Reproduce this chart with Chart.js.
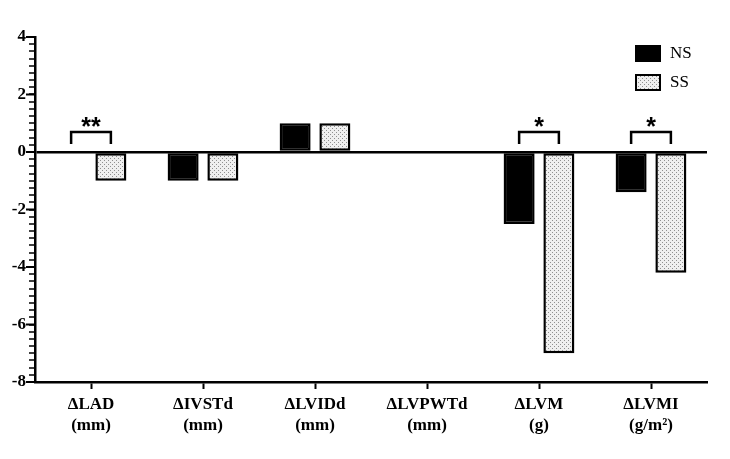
<!DOCTYPE html>
<html>
<head>
<meta charset="utf-8">
<script src="https://cdn.jsdelivr.net/npm/chart.js@4/dist/chart.umd.min.js"></script>
<style>
  html, body { margin: 0; padding: 0; background: #fff; }
  #wrap { width: 730px; height: 459px; }
</style>
</head>
<body>
<div id="wrap"><canvas id="echoChart" width="730" height="459"></canvas></div>
<script>
'use strict';

const CATEGORIES = [
  ['ΔLAD', '(mm)'],
  ['ΔIVSTd', '(mm)'],
  ['ΔLVIDd', '(mm)'],
  ['ΔLVPWTd', '(mm)'],
  ['ΔLVM', '(g)'],
  ['ΔLVMI', '(g/m²)'],
];
const NS_VALUES = [0, -1, 1, 0, -2.5, -1.4];
const SS_VALUES = [-1, -1, 1, 0, -7, -4.2];
const SIG_LABELS = ['**', '', '', '', '*', '*'];
const SERIES_NAMES = ['NS', 'SS'];
const Y_MIN = -8;
const Y_MAX = 4;

const SERIF = "'Liberation Serif', 'Times New Roman', serif";

// stipple fill for the SS bars
const makeDots = () => {
  const c = document.createElement('canvas');
  c.width = 4;
  c.height = 4;
  const g = c.getContext('2d');
  g.fillStyle = '#efefef';
  g.fillRect(0, 0, 4, 4);
  g.fillStyle = '#8f8f8f';
  g.fillRect(0, 0, 1, 1);
  g.fillRect(2, 2, 1, 1);
  return g.createPattern(c, 'repeat');
};
const dots = makeDots();

const majorTicks = {
  id: 'majorTicks',
  afterDraw(chart) {
    const y = chart.scales.y;
    const ctx = chart.ctx;
    ctx.save();
    ctx.strokeStyle = '#000';
    ctx.lineWidth = 2;
    for (let v = Y_MIN; v <= Y_MAX; v += 2) {
      const py = y.getPixelForValue(v);
      ctx.beginPath();
      ctx.moveTo(y.right - 9, py);
      ctx.lineTo(y.right, py);
      ctx.stroke();
    }
    ctx.restore();
  },
};

const sigBrackets = {
  id: 'sigBrackets',
  afterDatasetsDraw(chart) {
    const y = chart.scales.y;
    const ctx = chart.ctx;
    const ns = chart.getDatasetMeta(0).data;
    const ss = chart.getDatasetMeta(1).data;
    ctx.save();
    ctx.strokeStyle = '#000';
    ctx.fillStyle = '#000';
    ctx.lineWidth = 2.5;
    ctx.font = "bold 25px 'Liberation Sans', Arial, sans-serif";
    ctx.textAlign = 'center';
    ctx.textBaseline = 'alphabetic';
    SIG_LABELS.forEach((lbl, i) => {
      if (!lbl) return;
      const x1 = ns[i].x;
      const x2 = ss[i].x;
      const top = y.getPixelForValue(0.7);
      const leg = y.getPixelForValue(0.28);
      ctx.beginPath();
      ctx.moveTo(x1, leg);
      ctx.lineTo(x1, top);
      ctx.lineTo(x2, top);
      ctx.lineTo(x2, leg);
      ctx.stroke();
      ctx.fillText(lbl, (x1 + x2) / 2, top + 3);
    });
    ctx.restore();
  },
};

const boxLegend = {
  id: 'boxLegend',
  afterDraw(chart) {
    const ctx = chart.ctx;
    const area = chart.chartArea;
    const x = area.right - 71;
    ctx.save();
    ctx.font = '17px ' + SERIF;
    ctx.textBaseline = 'middle';
    ctx.textAlign = 'left';
    chart.data.datasets.forEach((ds, i) => {
      const top = area.top + 9 + i * 29;
      ctx.fillStyle = ds.backgroundColor;
      ctx.fillRect(x, top, 24, 15);
      ctx.strokeStyle = '#000';
      ctx.lineWidth = 2;
      ctx.strokeRect(x, top, 24, 15);
      ctx.fillStyle = '#000';
      ctx.fillText(ds.label, x + 34, top + 8);
    });
    ctx.restore();
  },
};

const chartConfig = {
  type: 'bar',
  data: {
    labels: CATEGORIES,
    datasets: [
      {
        label: SERIES_NAMES[0],
        data: NS_VALUES,
        backgroundColor: '#000',
        borderColor: '#000',
        borderWidth: 2.5,
        borderSkipped: false,
      },
      {
        label: SERIES_NAMES[1],
        data: SS_VALUES,
        backgroundColor: dots,
        borderColor: '#000',
        borderWidth: 2.5,
        borderSkipped: false,
      },
    ],
  },
  options: {
    responsive: false,
    animation: false,
    devicePixelRatio: 1,
    categoryPercentage: 0.71,
    barPercentage: 0.78,
    layout: {
      padding: { left: 0, right: 23, top: 37, bottom: 0 },
    },
    plugins: {
      legend: { display: false },
      tooltip: { enabled: false },
    },
    scales: {
      x: {
        offset: true,
        afterFit: (scale) => {
          scale.height = 77;
        },
        grid: {
          offset: false,
          drawOnChartArea: false,
          tickLength: 7,
          tickColor: '#000',
          tickWidth: 2,
        },
        border: { display: true, color: '#000', width: 2.5 },
        ticks: {
          color: '#000',
          padding: 5,
          maxRotation: 0,
          font: { family: SERIF, size: 17, weight: 'bold', lineHeight: 1.25 },
        },
      },
      y: {
        min: Y_MIN,
        max: Y_MAX,
        afterFit: (scale) => {
          scale.width = 35;
        },
        grid: {
          drawOnChartArea: true,
          color: (c) => (c.tick && c.tick.value === 0 ? '#000' : 'rgba(0,0,0,0)'),
          lineWidth: (c) => (c.tick && c.tick.value === 0 ? 2.5 : 0),
          tickColor: '#000',
          tickWidth: 1.5,
          tickLength: 6,
        },
        border: { display: true, color: '#000', width: 2.5 },
        ticks: {
          stepSize: 0.25,
          autoSkip: false,
          color: '#000',
          padding: 3,
          font: { family: SERIF, size: 17, weight: 'bold' },
          callback: (v) => (v % 2 === 0 ? v : ''),
        },
      },
    },
  },
  plugins: [majorTicks, sigBrackets, boxLegend],
};

new Chart(document.getElementById('echoChart'), chartConfig);
</script>
</body>
</html>
